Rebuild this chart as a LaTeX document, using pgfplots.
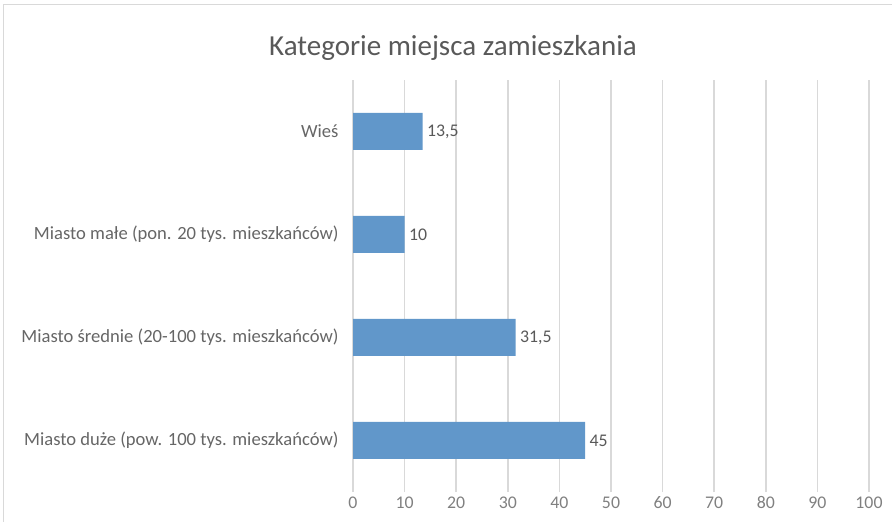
\documentclass[border=0pt]{standalone}
\usepackage{pgfplots}
\pgfplotsset{compat=1.18}
\usepackage{fontspec}
\setmainfont{Carlito}
\definecolor{barcol}{RGB}{97,151,202}
\definecolor{txtgray}{RGB}{89,89,89}
\definecolor{gridgray}{RGB}{217,217,217}

\begin{document}
\begin{tikzpicture}
\path[use as bounding box] (0,0) rectangle (892bp,522bp);
\draw[gridgray, line width=1bp] (3bp,0) -- (3bp,517bp) -- (892bp,517bp);
\begin{axis}[
  at={(353bp,30bp)}, anchor=south west,
  scale only axis, width=516bp, height=412bp,
  xbar, bar width=37bp,
  xmin=0, xmax=100, xtick={0,10,...,100},
  ymin=-0.5, ymax=3.5, ytick={0,1,2,3},
  yticklabels={Miasto duże (pow. 100 tys. mieszkańców), Miasto średnie (20-100 tys. mieszkańców), Miasto małe (pon. 20 tys. mieszkańców), Wieś},
  axis line style={draw=none}, xmajorgrids, ymajorgrids=false,
  grid style={gridgray, line width=1.6bp},
  major tick length=0pt,
  /pgf/number format/assume math mode=true,
  tick label style={font=\fontsize{17.8bp}{21bp}\selectfont, text=txtgray},
  yticklabel style={xshift=-11bp, font=\fontsize{18.6bp}{21bp}\selectfont, text=black!60},
  xticklabel style={yshift=-1bp, text=black!50},
  nodes near coords,
  nodes near coords style={font=\fontsize{17.8bp}{21bp}\selectfont, text=txtgray, anchor=west, xshift=1bp},
  point meta=explicit symbolic,
]
\addplot[fill=barcol, draw=none] coordinates {(45,0)[45] (31.5,1)[31,5] (10,2)[10] (13.5,3)[13,5]};
\end{axis}
\node[text=txtgray, font=\fontsize{29bp}{34bp}\selectfont] at (453bp,474bp) {Kategorie miejsca zamieszkania};
\end{tikzpicture}
\end{document}
